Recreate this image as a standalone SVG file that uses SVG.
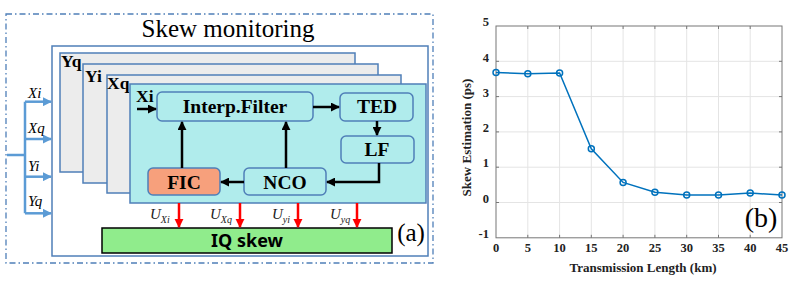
<svg xmlns="http://www.w3.org/2000/svg" width="793" height="289" viewBox="0 0 793 289">
<style>
text{font-family:'Liberation Serif',serif}
.bl{font-weight:bold}
.box{fill:#b0ecec;stroke:#4f7fb8;stroke-width:1.5}
.page{fill:#ececec;stroke:#4f7fb8;stroke-width:1.5}
.blk{stroke:#000;stroke-width:2.5;fill:none}
.red{stroke:#ff0000;stroke-width:2.5;fill:none}
.bus{stroke:#5b9bd5;stroke-width:2.5;fill:none}
.grid{stroke:#e4e4e4;stroke-width:1}
.tick{font-size:12.5px;font-weight:bold;fill:#222}
.lbl{font-size:19.5px;font-weight:bold}
.pg{font-size:17.5px;font-weight:bold}
</style>
<defs>
<marker id="ah" viewBox="0 0 10 10" refX="9" refY="5" markerWidth="9" markerHeight="9" markerUnits="userSpaceOnUse" orient="auto"><path d="M0,0L10,5L0,10z" fill="#000"/></marker>
<marker id="ahr" viewBox="0 0 10 10" refX="9" refY="5" markerWidth="9" markerHeight="10" markerUnits="userSpaceOnUse" orient="auto"><path d="M0,0L10,5L0,10z" fill="#ff0000"/></marker>
<marker id="ahb" viewBox="0 0 10 10" refX="9" refY="5" markerWidth="9" markerHeight="9" markerUnits="userSpaceOnUse" orient="auto"><path d="M0,0L10,5L0,10z" fill="#5b9bd5"/></marker>
</defs>
<rect width="793" height="289" fill="#fff"/>

<!-- Panel (a) -->
<rect x="6" y="14" width="427" height="249" fill="none" stroke="#4f7fb8" stroke-width="1.3" stroke-dasharray="6,3,1.5,3"/>
<text font-family="Liberation Serif, serif" x="228" y="37" font-size="25" text-anchor="middle">Skew monitoring</text>
<g id="monitor"><rect x="52" y="46" width="376" height="210" fill="#fff" stroke="#4f7fb8" stroke-width="1.5"/></g>

<g id="page-yq"><rect class="page" x="60" y="53" width="295" height="119"/><text font-family="Liberation Serif, serif" class="pg" x="61" y="67">Yq</text></g>
<g id="page-yi"><rect class="page" x="83" y="64" width="295" height="119"/><text font-family="Liberation Serif, serif" class="pg" x="85" y="82">Yi</text></g>
<g id="page-xq"><rect class="page" x="107" y="75" width="294" height="118"/><text font-family="Liberation Serif, serif" class="pg" x="107" y="89">Xq</text></g>
<g id="page-xi"><rect class="box" x="130" y="84" width="296" height="119"/><text font-family="Liberation Serif, serif" class="pg" x="136" y="102">Xi</text></g>

<g id="interp"><rect class="box" x="157" y="92" width="156" height="29" rx="5"/><text font-family="Liberation Serif, serif" class="lbl" x="235" y="113" text-anchor="middle">Interp.Filter</text></g>
<g id="ted"><rect class="box" x="340" y="93" width="73" height="28" rx="5"/><text font-family="Liberation Serif, serif" class="lbl" x="377" y="113" text-anchor="middle">TED</text></g>
<g id="lf"><rect class="box" x="341" y="136" width="73" height="27" rx="5"/><text font-family="Liberation Serif, serif" class="lbl" x="377" y="156" text-anchor="middle">LF</text></g>
<g id="fic"><rect x="148" y="168" width="72" height="27" rx="5" fill="#f7a07c" stroke="#4f7fb8" stroke-width="1.5"/><text font-family="Liberation Serif, serif" class="lbl" x="184" y="189" text-anchor="middle">FIC</text></g>
<g id="nco"><rect class="box" x="244" y="168" width="82" height="27" rx="5"/><text font-family="Liberation Serif, serif" class="lbl" x="285" y="189" text-anchor="middle">NCO</text></g>
<g id="iqskew"><rect x="102" y="228" width="290" height="25" fill="#90ec8c" stroke="#000" stroke-width="1.5"/><text style="font-family:'Noto Sans',sans-serif" font-weight="bold" font-size="18" x="247" y="247" text-anchor="middle">IQ skew</text></g>
<text font-family="Liberation Serif, serif" x="411" y="241" font-size="25" text-anchor="middle">(a)</text>

<g id="connectors">
<path class="blk" d="M137,109H156" marker-end="url(#ah)"/>
<path class="blk" d="M313,107H339" marker-end="url(#ah)"/>
<path class="blk" d="M377,121V135" marker-end="url(#ah)"/>
<path class="blk" d="M379,163V182H327" marker-end="url(#ah)"/>
<path class="blk" d="M244,182H221" marker-end="url(#ah)"/>
<path class="blk" d="M182,168V122" marker-end="url(#ah)"/>
<path class="blk" d="M286,168V122" marker-end="url(#ah)"/>
<path class="red" d="M179,203V227" marker-end="url(#ahr)"/>
<path class="red" d="M240,203V227" marker-end="url(#ahr)"/>
<path class="red" d="M298,203V227" marker-end="url(#ahr)"/>
<path class="red" d="M357,203V227" marker-end="url(#ahr)"/>
<path class="bus" d="M7,155H25M25,101.7V213.3"/>
<path class="bus" d="M25,101.7H51" marker-end="url(#ahb)"/>
<path class="bus" d="M25,139H51" marker-end="url(#ahb)"/>
<path class="bus" d="M25,176.7H51" marker-end="url(#ahb)"/>
<path class="bus" d="M25,213.3H51" marker-end="url(#ahb)"/>
</g>
<g font-family="Liberation Serif, serif" font-style="italic" font-size="15">
<text x="28" y="98">Xi</text>
<text x="28" y="133">Xq</text>
<text x="28" y="171">Yi</text>
<text x="28" y="206">Yq</text>
</g>
<g font-family="Liberation Serif, serif" font-style="italic" fill="#222" font-size="15">
<text x="150" y="219">U<tspan font-size="10" dy="4">Xi</tspan></text>
<text x="210" y="219">U<tspan font-size="10" dy="4">Xq</tspan></text>
<text x="272" y="219">U<tspan font-size="10" dy="4">yi</tspan></text>
<text x="330" y="219">U<tspan font-size="10" dy="4">yq</tspan></text>
</g>

<!-- Panel (b) -->
<g id="chart">
<g class="grid">
<path d="M527.8,26V237.8M559.6,26V237.8M591.3,26V237.8M623.1,26V237.8M654.9,26V237.8M686.7,26V237.8M718.5,26V237.8M750.2,26V237.8"/>
<path d="M496,61.3H782M496,96.6H782M496,131.9H782M496,167.2H782M496,202.5H782"/>
</g>
<rect x="496" y="26" width="286" height="211.8" fill="none" stroke="#777" stroke-width="1"/>
<path stroke="#777" stroke-width="1" d="M496,61.3h3M496,96.6h3M496,131.9h3M496,167.2h3M496,202.5h3M782,61.3h-3M782,96.6h-3M782,131.9h-3M782,167.2h-3M782,202.5h-3M527.8,237.8v-3M559.6,237.8v-3M591.3,237.8v-3M623.1,237.8v-3M654.9,237.8v-3M686.7,237.8v-3M718.5,237.8v-3M750.2,237.8v-3M527.8,26v3M559.6,26v3M591.3,26v3M623.1,26v3M654.9,26v3M686.7,26v3M718.5,26v3M750.2,26v3"/>
<polyline fill="none" stroke="#0072bd" stroke-width="1.5" points="496,72.6 527.8,73.7 559.6,73 591.3,148.8 623.1,182.4 654.9,192.3 686.7,195.1 718.5,195.1 750.2,193 782,195.1"/>
<g fill="none" stroke="#0072bd" stroke-width="1.5">
<circle cx="496" cy="72.6" r="3"/><circle cx="527.8" cy="73.7" r="3"/><circle cx="559.6" cy="73" r="3"/><circle cx="591.3" cy="148.8" r="3"/><circle cx="623.1" cy="182.4" r="3"/><circle cx="654.9" cy="192.3" r="3"/><circle cx="686.7" cy="195.1" r="3"/><circle cx="718.5" cy="195.1" r="3"/><circle cx="750.2" cy="193" r="3"/><circle cx="782" cy="195.1" r="3"/>
</g>
<g font-family="Liberation Serif, serif" class="tick" text-anchor="end">
<text x="489" y="26">5</text><text x="489" y="62">4</text><text x="489" y="97">3</text><text x="489" y="132">2</text><text x="489" y="167">1</text><text x="489" y="203">0</text><text x="489" y="238">-1</text>
</g>
<g font-family="Liberation Serif, serif" class="tick" text-anchor="middle">
<text x="496" y="252">0</text><text x="527.8" y="252">5</text><text x="559.6" y="252">10</text><text x="591.3" y="252">15</text><text x="623.1" y="252">20</text><text x="654.9" y="252">25</text><text x="686.7" y="252">30</text><text x="718.5" y="252">35</text><text x="750.2" y="252">40</text><text x="782" y="252">45</text>
</g>
<text font-family="Liberation Serif, serif" class="bl" x="643" y="272" font-size="13" fill="#222" text-anchor="middle">Transmission Length (km)</text>
<text font-family="Liberation Serif, serif" class="bl" transform="translate(471,137.5) rotate(-90)" font-size="13" fill="#222" text-anchor="middle">Skew Estimation (ps)</text>
<text font-family="Liberation Serif, serif" x="761" y="227" font-size="28" text-anchor="middle">(b)</text>
</g>
</svg>
